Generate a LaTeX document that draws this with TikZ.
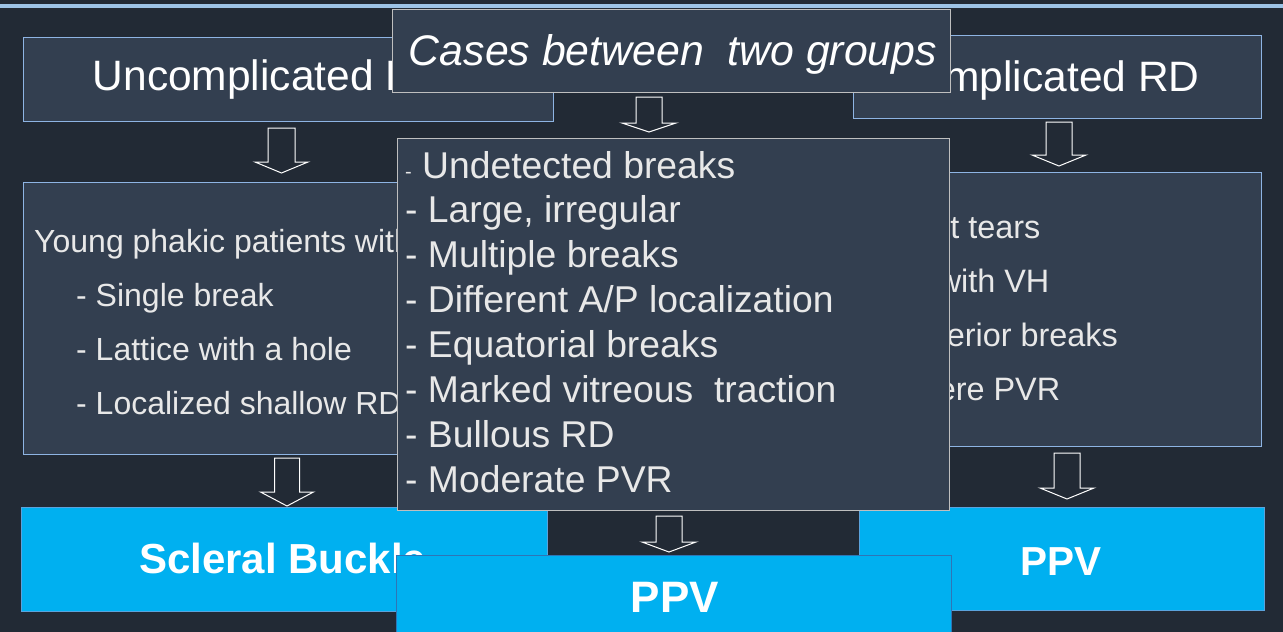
\documentclass[tikz,border=0pt]{standalone}
\usepackage{fontspec}
\setmainfont{Liberation Sans}
\definecolor{bgc}{HTML}{222A35}
\definecolor{band}{HTML}{9DC3E6}
\definecolor{slate}{HTML}{333F50}
\definecolor{edgeblue}{HTML}{8EB4E3}
\definecolor{edgegray}{HTML}{BFBFBF}
\definecolor{cyanfill}{HTML}{00B0F0}
\definecolor{cyanedge}{HTML}{5BA3DC}
\definecolor{cyandark}{HTML}{2E75B6}
\definecolor{listtxt}{HTML}{E8E8E8}
% block arrow pointing down: centre x, top, shoulder y, tip y, half shaft, half head
\newcommand\blockdown[6]{%
  \draw[blockarrow] ({#1-#5},#2) -- ({#1+#5},#2) -- ({#1+#5},#3) -- ({#1+#6},#3)
    -- (#1,#4) -- ({#1-#6},#3) -- ({#1-#5},#3) -- cycle;}
\begin{document}
\begin{tikzpicture}[x=1pt,y=-1pt,
  panel/.style={draw=edgeblue, fill=slate, line width=1.1pt, inner sep=0pt, anchor=north west},
  graypanel/.style={panel, draw=edgegray},
  result/.style={fill=cyanfill, draw=cyanedge, line width=1.1pt, inner sep=0pt, anchor=north west},
  title/.style={text=white, inner sep=0pt, font=\fontsize{42.5pt}{50pt}\selectfont},
  item/.style={text=listtxt, inner sep=0pt, anchor=base west, font=\fontsize{32pt}{38pt}\selectfont},
  rightitem/.style={item, font=\fontsize{32.4pt}{38pt}\selectfont},
  miditem/.style={item, font=\fontsize{37.3pt}{44pt}\selectfont},
  restext/.style={text=white, inner sep=0pt, font=\bfseries\fontsize{40.5pt}{48pt}\selectfont},
  blockarrow/.style={draw=white, fill=bgc, line width=1pt, line join=miter}]
\useasboundingbox (0,0) rectangle (1283,632);
\fill[bgc] (0,0) rectangle (1283,632);
\fill[band] (0,3.5) rectangle (1283,8);

% column headings
\node[panel, minimum width=530pt, minimum height=83.5pt] (uncBox) at (23.3,37.3) {};
\node[title, anchor=base west] (uncText) at (92.5,90) {Uncomplicated RD};
\node[panel, minimum width=408pt, minimum height=83pt] (comBox) at (853,35) {};
\node[title, anchor=base west] (comText) at (890,91) {Complicated RD};
\node[graypanel, minimum width=558pt, minimum height=82.5pt] (midBox) at (392,9.3) {};
\node[title, anchor=base, font=\itshape\fontsize{42.8pt}{50pt}\selectfont] (midText) at (673,65) {Cases between\ \ two groups};

% arrows below the headings
\blockdown{281.5}{128}{162}{173}{13.5}{26.5}
\blockdown{1059}{122}{155}{166}{13}{27}
\blockdown{649}{97}{123}{132}{13}{27}

% left criteria
\node[panel, minimum width=530pt, minimum height=271.5pt] (leftList) at (23.3,182) {};
\node[item] (left0) at (34,252) {Young phakic patients with:};
\foreach \t [count=\i] in {{- Single break},{- Lattice with a hole},{- Localized shallow RD}}
  \node[item] (left\i) at (76,{252+54.1*\i}) {\t};

% right criteria
\node[panel, minimum width=408pt, minimum height=274.3pt] (rightList) at (853,171.7) {};
\foreach \t [count=\i from 0] in {{- Giant tears},{- RD with VH},{- Posterior breaks},{- Severe PVR}}
  \node[rightitem] (right\i) at (862,{238+54.3*\i}) {\t};

% outcomes
\node[result, minimum width=526pt, minimum height=104pt] (sbBox) at (21,507) {};
\node[restext, anchor=base west, font=\bfseries\fontsize{42pt}{50pt}\selectfont] (sbText) at (139,573) {Scleral Buckle};
\node[result, minimum width=405pt, minimum height=103pt] (ppvRBox) at (859,507) {};
\node[restext, anchor=base] (ppvRText) at (1061,575) {PPV};

% middle criteria
\node[graypanel, minimum width=552.5pt, minimum height=372pt] (midList) at (396.5,137.5) {};
\foreach \t [count=\i from 0] in {{{\fontsize{20pt}{24pt}\selectfont -} Undetected breaks},
    {- Large, irregular},{- Multiple breaks},{- Different A/P localization},
    {- Equatorial breaks},{- Marked vitreous\ \ traction},{- Bullous RD},{- Moderate PVR}}
  \node[miditem] (mid\i) at (405,{178+44.9*\i}) {\t};

% arrows to the outcomes
\blockdown{287}{458}{492}{506}{12.5}{26.5}
\blockdown{669}{516}{542}{552}{13}{27}
\blockdown{1067}{453}{488}{499}{13}{27}

% middle outcome
\node[result, draw=cyandark, minimum width=555pt, minimum height=90pt] (ppvMBox) at (396,555) {};
\node[restext, anchor=base, font=\bfseries\fontsize{44pt}{52pt}\selectfont] (ppvMText) at (675,612) {PPV};
\end{tikzpicture}
\end{document}
